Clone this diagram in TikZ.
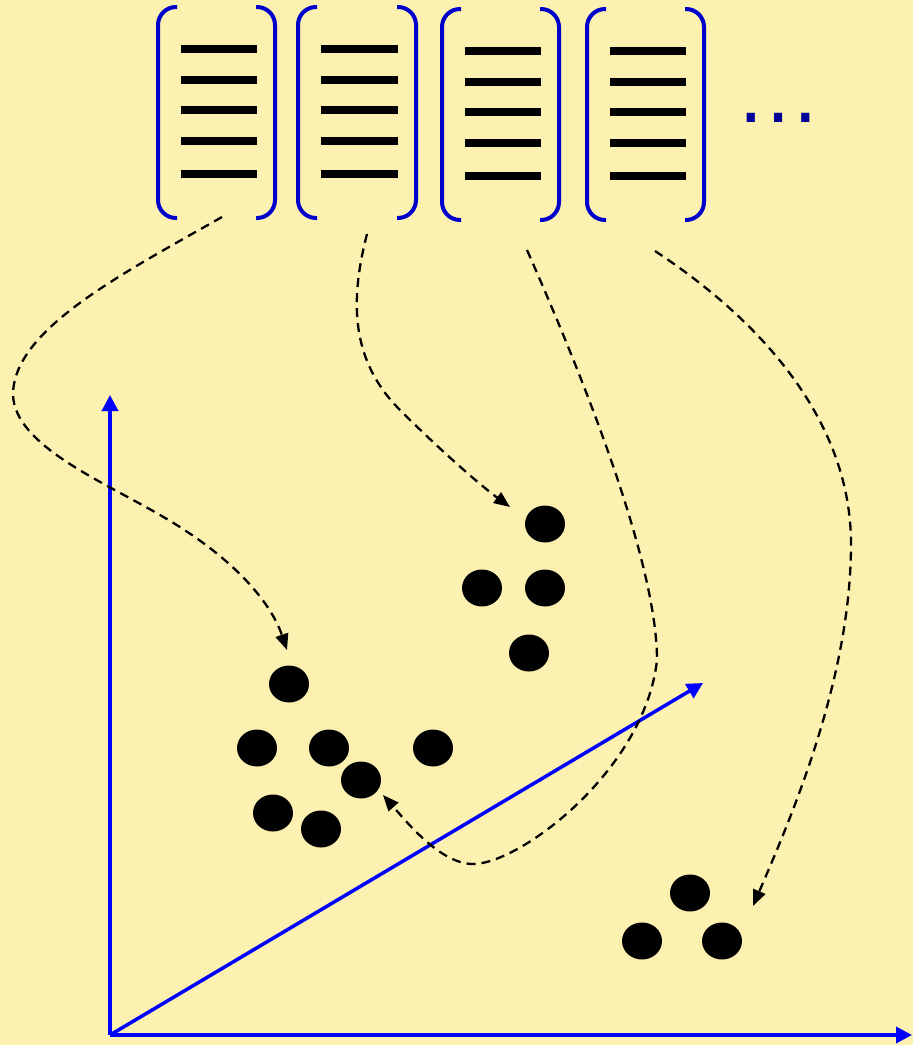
\documentclass[tikz,border=0pt]{standalone}
\usepackage{fontspec}
\setmainfont{Liberation Sans}
\usetikzlibrary{arrows.meta,shapes.geometric}
\definecolor{bg}{RGB}{252,241,176}
\definecolor{brk}{RGB}{0,0,204}
\definecolor{ellc}{RGB}{0,0,153}
\definecolor{axisc}{RGB}{0,0,255}
\newcommand{\DocBox}[5]{%
  \node[docbox] (#1) at ({(#2+#3)/2},{#4+105.5}) {};
  \draw[bracket] (#2+19,#4) -- (#2,#4) -- (#2,#4+211) -- (#2+19,#4+211);
  \draw[bracket] (#3-19,#4) -- (#3,#4) -- (#3,#4+211) -- (#3-19,#4+211);
  \foreach \yy in {0,31,61,92,125} \draw[textline] (#2+23,#5+\yy) -- (#3-18,#5+\yy);
}
\begin{document}
\begin{tikzpicture}[x=1pt,y=-1pt,
  bracket/.style={draw=brk,line width=4pt,rounded corners=18pt},
  textline/.style={draw=black,line width=7.5pt},
  docbox/.style={rectangle,inner sep=0pt,minimum width=118pt,minimum height=211pt},
  dot/.style={ellipse,fill=black,inner sep=0pt,minimum width=40pt,minimum height=37pt},
  axisline/.style={draw=axisc,line width=3.5pt,-{Triangle[length=16pt,width=16pt]}},
  link/.style={draw=black,line width=2.3pt,dash pattern=on 9pt off 6pt,-{Triangle[length=16pt,width=13pt]}}]
\fill[bg] (0,0) rectangle (913,1045);
\useasboundingbox (0,0) rectangle (913,1045);

% documents
\DocBox{d1}{158}{275}{7}{49}
\DocBox{d2}{298}{416}{7}{49}
\DocBox{d3}{442}{559}{9}{51}
\DocBox{d4}{587}{704}{9}{51}
\node[anchor=base,text=ellc,font=\fontsize{86}{86}\selectfont,inner sep=0pt] (more) at (778,122) {…};

% axes
\coordinate (O) at (110,1035);
\coordinate (ytip) at (110,395);
\coordinate (xtip) at (912,1035);
\coordinate (ztip) at (703,683);
\draw[axisline] (O) -- (ytip);
\draw[axisline] (O) -- (xtip);
\draw[axisline] (O) -- (ztip);

% link end points
\coordinate (l1s) at (222,217);
\coordinate (l1e) at (287,650);
\coordinate (l2s) at (367,234);
\coordinate (l2e) at (510,507);
\coordinate (l3s) at (527,250);
\coordinate (l3e) at (383,795);
\coordinate (l4s) at (655,251);
\coordinate (l4e) at (753,906);

\draw[link] (l1s) .. controls (120,275) and (13,330) .. (13,395)
  .. controls (15,445) and (100,480) .. (160,515)
  .. controls (230,555) and (270,600) .. (l1e);
\draw[link] (l2s) .. controls (350,300) and (350,360) .. (400,410)
  .. controls (440,450) and (480,485) .. (l2e);
\draw[link] (l3s) .. controls (580,370) and (657,560) .. (657,660)
  .. controls (645,770) and (520,864) .. (473,864)
  .. controls (440,864) and (405,820) .. (l3e);
\draw[link] (l4s) .. controls (760,320) and (851,420) .. (851,544)
  .. controls (851,680) and (790,820) .. (l4e);

% clusters
\node[dot] (a1) at (289,684) {};
\node[dot] (a2) at (257,748) {};
\node[dot] (a3) at (329,748) {};
\node[dot] (a4) at (433,748) {};
\node[dot] (a5) at (361,780) {};
\node[dot] (a6) at (273,813) {};
\node[dot] (a7) at (321,829) {};

\node[dot] (b1) at (545,524) {};
\node[dot] (b2) at (482,588) {};
\node[dot] (b3) at (545,588) {};
\node[dot] (b4) at (529,653) {};

\node[dot] (c1) at (690,893) {};
\node[dot] (c2) at (642,941) {};
\node[dot] (c3) at (722,941) {};
\end{tikzpicture}
\end{document}
